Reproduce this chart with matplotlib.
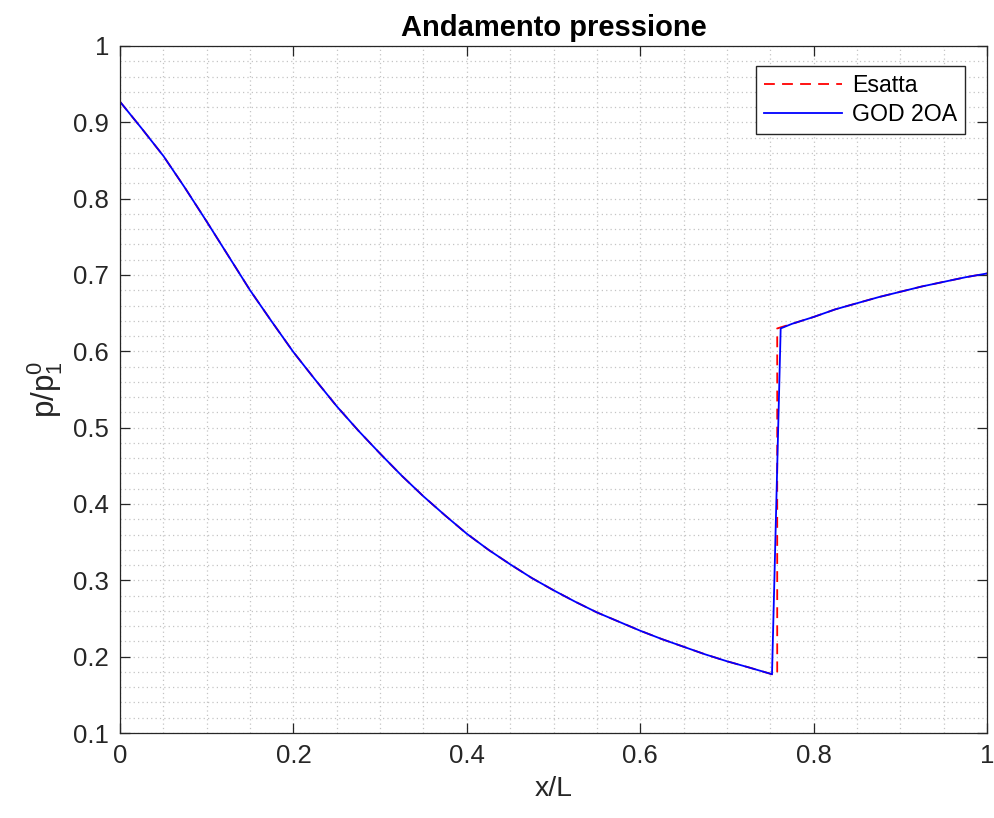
import matplotlib

matplotlib.use("Agg")
import matplotlib.pyplot as plt
from matplotlib.ticker import FuncFormatter, MultipleLocator

# pressure ratio along the nozzle
x_smooth = [0.0, 0.025, 0.05, 0.075, 0.1, 0.125, 0.15, 0.175, 0.2, 0.225,
            0.25, 0.275, 0.3, 0.325, 0.35, 0.375, 0.4, 0.425, 0.45, 0.475,
            0.5, 0.525, 0.55, 0.575, 0.6, 0.625, 0.65, 0.675, 0.7, 0.725, 0.752]
p_smooth = [0.927, 0.892, 0.856, 0.814, 0.770, 0.725, 0.680, 0.639, 0.599, 0.563,
            0.528, 0.496, 0.466, 0.437, 0.410, 0.385, 0.361, 0.340, 0.321, 0.303,
            0.287, 0.272, 0.258, 0.246, 0.234, 0.223, 0.213, 0.203, 0.194, 0.186, 0.177]

# exact solution: vertical shock
x_shock_exact = [0.758, 0.758]
p_shock_exact = [0.176, 0.630]
# numerical solution: shock smeared over one cell
x_shock_god = [0.762]
p_shock_god = [0.630]

x_after = [0.775, 0.8, 0.825, 0.85, 0.875, 0.9, 0.925, 0.95, 0.975, 1.0]
p_after = [0.636, 0.645, 0.655, 0.663, 0.671, 0.678, 0.685, 0.691, 0.697, 0.702]

x_exact = x_smooth + x_shock_exact + x_after
p_exact = p_smooth + p_shock_exact + p_after
x_god = x_smooth + x_shock_god + x_after
p_god = p_smooth + p_shock_god + p_after

x_ticks = [0, 0.2, 0.4, 0.6, 0.8, 1]
y_ticks = [0.1, 0.2, 0.3, 0.4, 0.5, 0.6, 0.7, 0.8, 0.9, 1]

plt.rcParams["font.family"] = ["Liberation Sans", "DejaVu Sans"]
plt.rcParams["mathtext.fontset"] = "custom"
plt.rcParams["mathtext.rm"] = "Liberation Sans"
plt.rcParams["mathtext.it"] = "Liberation Sans"

axcol = "#262626"

fig = plt.figure(figsize=(9.95, 8.18), dpi=100)
ax = fig.add_axes([0.1206, 0.1039, 0.8714, 0.8399])

ax.plot(x_exact, p_exact, color="red", lw=1.3, dashes=(6, 4), label="Esatta")
ax.plot(x_god, p_god, color="blue", lw=1.3, label="GOD 2OA")

ax.set_xticks(x_ticks)
ax.set_yticks(y_ticks)
ax.xaxis.set_minor_locator(MultipleLocator(0.05))
ax.yaxis.set_minor_locator(MultipleLocator(0.02))
fmt = FuncFormatter(lambda v, pos: f"{v:g}")
ax.xaxis.set_major_formatter(fmt)
ax.yaxis.set_major_formatter(fmt)
ax.set_xlim(0, 1)
ax.set_ylim(0.1, 1)

ax.grid(which="both", color="#c4c4c4", lw=0.9, dashes=(1, 2.5))
ax.set_axisbelow(True)

ax.tick_params(which="major", direction="in", length=7, width=0.9, colors=axcol,
               labelsize=18.5, top=True, right=True, pad=8)
ax.tick_params(which="minor", length=0, top=True, right=True)
for s in ax.spines.values():
    s.set_color(axcol)
    s.set_linewidth(0.9)

ax.set_xlabel("x/L", fontsize=20.4, color=axcol, labelpad=6)
ax.set_ylabel(r"p/p$_1^0$", fontsize=22.5, color=axcol, labelpad=6)
ax.set_title("Andamento pressione", fontsize=21, fontweight="bold", pad=7)

leg = ax.legend(loc="upper right", bbox_to_anchor=(0.9746, 0.9709), borderaxespad=0,
                fontsize=16.7, handlelength=3.4, handletextpad=0.4, fancybox=False,
                framealpha=1, edgecolor="#262626", borderpad=0.35, labelspacing=0.25)
leg.get_frame().set_linewidth(1.0)

plt.savefig("out.png", dpi=100)
plt.close()
